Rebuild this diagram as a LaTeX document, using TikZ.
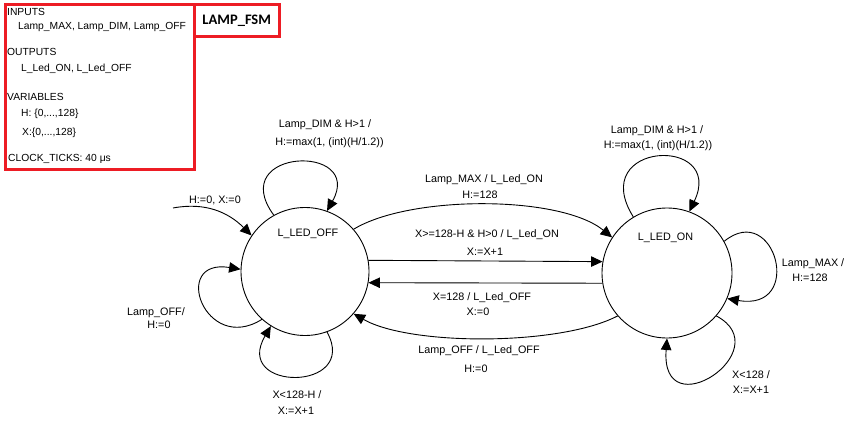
\documentclass[tikz,border=0pt]{standalone}
\usepackage{fontspec}
\setmainfont{Liberation Sans}
\newfontfamily\titlefont{Carlito}
\usetikzlibrary{arrows.meta}
\definecolor{boxred}{RGB}{237,28,36}
\begin{document}
\begin{tikzpicture}[x=1pt,y=-1pt,
  lbl/.style={font=\fontsize{10.8}{13}\selectfont, inner sep=0pt, text height=7.8pt, text depth=0pt},
  info/.style={font=\fontsize{10.3}{12}\selectfont, inner sep=0pt, text height=7.4pt, text depth=0pt, anchor=west},
  state/.style={circle, draw, line width=0.9pt, inner sep=0pt},
  edge/.style={line width=0.9pt, -{Triangle[length=11.5pt,width=10.5pt]}},
  redbox/.style={draw=boxred, line width=3pt, inner sep=0pt}]
\useasboundingbox (0,0) rectangle (859,425);
\fill[white] (0,0) rectangle (859,425);

% info box
\node[redbox, anchor=north west, minimum width=189pt, minimum height=164pt] (infobox) at (3.5,3.5) {};
\node[redbox, anchor=north west, minimum width=85.5pt, minimum height=32pt,
      font=\titlefont\bfseries\fontsize{14.5}{16}\selectfont] (title) at (192.5,3.5) {LAMP\_FSM};
\node[info] (inputs) at (7,12) {INPUTS};
\node[info] (inlist) at (18,26) {Lamp\_MAX, Lamp\_DIM, Lamp\_OFF};
\node[info] (outputs) at (7,52) {OUTPUTS};
\node[info] (outlist) at (21,68) {L\_Led\_ON, L\_Led\_OFF};
\node[info] (vars) at (7,97) {VARIABLES};
\node[info] (varh) at (21,113) {H: \{0,...,128\}};
\node[info] (varx) at (22,132) {X:\{0,...,128\}};
\node[info] (clock) at (8,158) {CLOCK\_TICKS: 40 μs};

% states
\node[state, minimum size=128pt] (off) at (305,271.5) {};
\node[state, minimum size=130pt] (on) at (667,273) {};
\node[lbl] (offname) at (308,233) {L\_LED\_OFF};
\node[lbl] (onname) at (665.5,237) {L\_LED\_ON};

% initial transition
\coordinate (init) at (173,208);
\draw[edge] (init) .. controls (205,202) and (228,212) .. (off.146);
\node[lbl] (initlbl) at (215,200) {H:=0, X:=0};

% OFF self loops
\draw[edge] (off.119.4) .. controls (225,148) and (365,143) .. (off.70.4);
\node[lbl] (offdim1) at (325,124) {Lamp\_DIM \& H>1  /};
\node[lbl] (offdim2) at (329.5,142) {H:=max(1, (int)(H/1.2))};

\draw[edge] (off.228.4) .. controls (205,355) and (170,258) .. (off.178.7);
\node[lbl] (offoff1) at (156,312) {Lamp\_OFF/};
\node[lbl] (offoff2) at (159,325) {H:=0};

\draw[edge] (off.290.8) .. controls (360,392) and (232,392) .. (off.238.2);
\node[lbl] (offx1) at (297,395) {X<128-H /};
\node[lbl] (offx2) at (296,411) {X:=X+1};

% transitions between states
\draw[edge] (off.41) .. controls (410,195) and (560,195) .. (on.147.5);
\node[lbl] (max1) at (484,179) {Lamp\_MAX / L\_Led\_ON};
\node[lbl] (max2) at (480,195) {H:=128};

\draw[edge] (off.10.9) -- (on.170.4);
\node[lbl] (inc1) at (487,234) {X>=128-H \& H>0 / L\_Led\_ON};
\node[lbl] (inc2) at (485,252) {X:=X+1};

\draw[edge] (on.189.6) -- (off.350.8);
\node[lbl] (full1) at (482,297) {X=128 / L\_Led\_OFF};
\node[lbl] (full2) at (478,312) {X:=0};

\draw[edge] (on.221.8) .. controls (560,346) and (410,346) .. (off.319.7);
\node[lbl] (lo1) at (479,350) {Lamp\_OFF / L\_Led\_OFF};
\node[lbl] (lo2) at (476,369) {H:=0};

% ON self loops
\draw[edge] (on.121.3) .. controls (586,141) and (726,135) .. (on.70.7);
\node[lbl] (ondim1) at (657,130) {Lamp\_DIM \& H>1  /};
\node[lbl] (ondim2) at (658,145) {H:=max(1, (int)(H/1.2))};

\draw[edge] (on.29) .. controls (775,200) and (805,312) .. (on.337.4);
\node[lbl] (onmax1) at (813,263) {Lamp\_MAX /};
\node[lbl] (onmax2) at (810,278) {H:=128};

\draw[edge] (on.319.4) .. controls (780,350) and (660,430) .. (on.270);
\node[lbl] (onx1) at (751,375) {X<128 /};
\node[lbl] (onx2) at (751,390) {X:=X+1};
\end{tikzpicture}
\end{document}
